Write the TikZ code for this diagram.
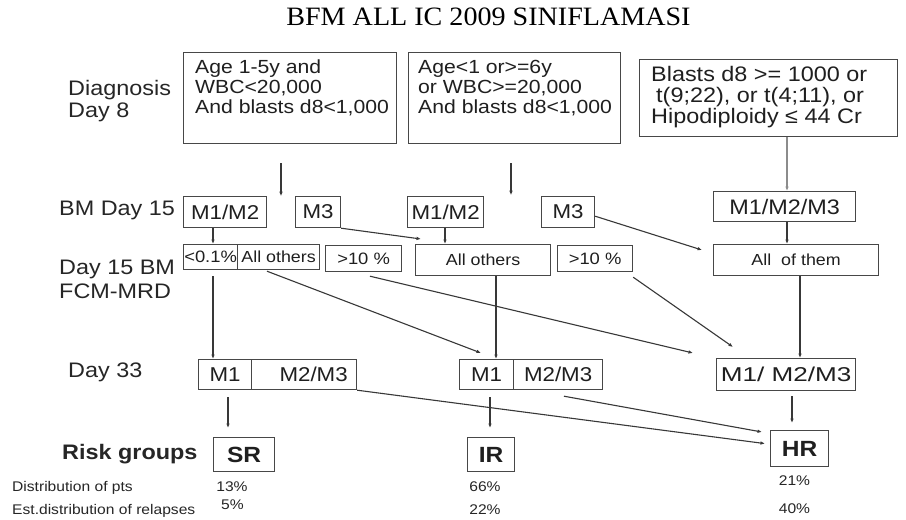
\documentclass[tikz,border=0pt]{standalone}
\usepackage{graphicx}
\usepackage{fontspec}
\setmainfont{Liberation Sans}[FakeStretch=1.115]
\newfontfamily\titlefont{Liberation Serif}[FakeStretch=1.06]
\usetikzlibrary{arrows.meta,calc}
\newcommand{\mylines}[1]{\begin{tabular}[t]{@{}l@{}}#1\end{tabular}}
\newcommand{\fsz}[2]{\fontsize{#1}{#2}\selectfont}
\begin{document}
\begin{tikzpicture}[x=1pt,y=-1pt,
  box/.style={draw=black!72, line width=1.2pt, rectangle, inner sep=0pt, text=black!88, anchor=north west},
  conn/.style={draw=black!78, line width=1.1pt, -{Latex[length=4.5pt,width=3.6pt]}},
  lab/.style={anchor=base west, inner sep=0pt, text=black!85, font=\fsz{21}{23}},
  btxt/.style={anchor=base west, inner sep=0pt, text=black!88},
  pct/.style={anchor=base, inner sep=0pt, font=\fsz{14}{16}, text=black!85}]
\fill[white] (0,0) rectangle (906,520);
\useasboundingbox (0,0) rectangle (906,520);

% title
\node[anchor=base, inner sep=0pt, font=\titlefont\fsz{26.5}{28}] (title) at (488.5,25.5) {BFM ALL IC 2009 SINIFLAMASI};

% left labels
\node[lab] (ldiag) at (68,95) {\fsz{21}{22}\mylines{Diagnosis\\Day 8}};
\node[lab] (lbm) at (59,215) {BM Day 15};
\node[lab] (lmrd) at (59,274) {\fsz{21}{24}\mylines{Day 15 BM\\FCM-MRD}};
\node[lab] (ld33) at (68,377) {Day 33};
\node[lab, font=\bfseries\fsz{21}{23}] (lrisk) at (62,459) {Risk groups};
\node[lab, font=\fsz{14}{16}] (ldist) at (12,491) {Distribution of pts};
\node[lab, font=\fsz{14}{16}] (lrel) at (12,514) {Est.distribution of relapses};

% diagnosis boxes
\node[box, minimum width=213, minimum height=91] (d1) at (183,52) {};
\node[btxt, font=\fsz{19}{20}] (d1t) at (195,73) {\mylines{Age 1-5y and\\WBC<20,000\\And blasts d8<1,000}};
\node[box, minimum width=212, minimum height=91] (d2) at (408,52) {};
\node[btxt, font=\fsz{19}{20}] (d2t) at (418,73) {\mylines{Age<1 or>=6y\\or WBC>=20,000\\And blasts d8<1,000}};
\node[box, minimum width=258, minimum height=77] (d3) at (639,59) {};
\node[btxt, font=\fsz{21}{20}] (d3t) at (651,81.5) {\mylines{Blasts d8 >= 1000 or\\\hspace*{5pt}t(9;22), or t(4;11), or\\Hipodiploidy ≤ 44 Cr}};

% BM day 15
\node[box, minimum width=83, minimum height=31, font=\fsz{20}{22}] (bm1) at (183,196) {M1/M2};
\node[box, minimum width=45, minimum height=31, font=\fsz{20}{22}] (bm2) at (295,196) {M3};
\node[box, minimum width=76, minimum height=31, font=\fsz{20}{22}] (bm3) at (407,196) {M1/M2};
\node[box, minimum width=53, minimum height=31, font=\fsz{20}{22}] (bm4) at (541,196) {M3};
\node[box, minimum width=142, minimum height=30, font=\fsz{21}{22}] (bm5) at (713,191) {M1/M2/M3};

% MRD
\node[box, minimum width=54, minimum height=25, font=\fsz{16.5}{18}] (r1) at (183,244) {<0.1\%};
\node[box, minimum width=82, minimum height=25, font=\fsz{16}{18}] (r2) at (237,244) {All others};
\node[box, minimum width=76, minimum height=26, font=\fsz{16.5}{18}] (r3) at (325,245) {>10 \%};
\node[box, minimum width=135, minimum height=31, font=\fsz{16}{18}] (r4) at (415,244) {All others};
\node[box, minimum width=75, minimum height=26, font=\fsz{16.5}{18}] (r5) at (557,245) {>10 \%};
\node[box, minimum width=165, minimum height=31, font=\fsz{16}{18}] (r6) at (713,244) {All\ \ of them};

% Day 33
\node[box, minimum width=53, minimum height=30, font=\fsz{20}{22}] (a1) at (198,359) {M1};
\node[box, minimum width=105, minimum height=30, font=\fsz{20}{22}] (a2) at (251,359) {\hspace*{19pt}M2/M3};
\node[box, minimum width=54, minimum height=30, font=\fsz{20}{22}] (b1) at (459,359) {M1};
\node[box, minimum width=89, minimum height=30, font=\fsz{20}{22}] (b2) at (513,359) {M2/M3};
\node[box, minimum width=139, minimum height=32, font=\fsz{20}{22}] (c1) at (716,358) {\scalebox{1.17}[1]{M1/ M2/M3}};

% risk groups
\node[box, minimum width=61, minimum height=34, font=\bfseries\fsz{22}{24}] (sr) at (213,437) {SR};
\node[box, minimum width=47, minimum height=34, font=\bfseries\fsz{22}{24}] (ir) at (467,437) {IR};
\node[box, minimum width=58, minimum height=36, font=\bfseries\fsz{22}{24}] (hr) at (770,430) {HR};

% percentages
\node[pct] (p13) at (232,491) {13\%};
\node[pct] (p5) at (232.5,509) {5\%};
\node[pct] (p66) at (485,491) {66\%};
\node[pct] (p22) at (485,514) {22\%};
\node[pct] (p21) at (794.5,485) {21\%};
\node[pct] (p40) at (794.5,513) {40\%};

% connectors
\draw[conn] ($(d1.south west)+(98,19)$) -- ($(d1.south west)+(98,52)$);
\draw[conn] ($(d2.south west)+(103,19)$) -- ($(d2.south west)+(103,51)$);
\draw[conn, draw=black!45, line width=1.4pt] ($(d3.south west)+(148,0)$) -- ($(bm5.north west)+(74,0)$);
\draw[conn] ($(bm1.south west)+(30,0)$) -- ($(r1.north west)+(30,0)$);
\draw[conn] ($(bm3.south west)+(38,0)$) -- ($(r4.north west)+(30,0)$);
\draw[conn] ($(bm5.south west)+(74,0)$) -- ($(r6.north west)+(74,0)$);
\draw[conn] (bm2.south east) -- ($(r4.north west)+(6,-5)$);
\draw[conn] ($(bm4.south east)+(0,-12)$) -- ($(r6.north west)+(-11,6)$);
\draw[conn] ($(r1.south west)+(30,6)$) -- ($(a1.north west)+(15,0)$);
\draw[conn] ($(r2.south west)+(30,1)$) -- ($(b1.north west)+(22,-6)$);
\draw[conn] ($(r3.south west)+(45,4)$) -- ($(c1.north west)+(-23,-5)$);
\draw[conn] ($(r4.south west)+(81,0)$) -- ($(b1.north west)+(37,0)$);
\draw[conn] ($(r5.south east)+(0,5)$) -- ($(c1.north west)+(17,-11)$);
\draw[conn] ($(r6.south west)+(87,0)$) -- ($(c1.north west)+(84,0)$);
\draw[conn] ($(a1.south west)+(30,7)$) -- ($(sr.north west)+(15,-9)$);
\draw[conn] ($(b1.south west)+(31,7)$) -- ($(ir.north west)+(23,-9)$);
\draw[conn] ($(c1.south west)+(76,5)$) -- ($(hr.north west)+(22,-7)$);
\draw[conn] (a2.south east) -- ($(hr.west)+(-5,-5)$);
\draw[conn] ($(b2.south west)+(51,6)$) -- ($(hr.north west)+(-8,2)$);
\end{tikzpicture}
\end{document}
